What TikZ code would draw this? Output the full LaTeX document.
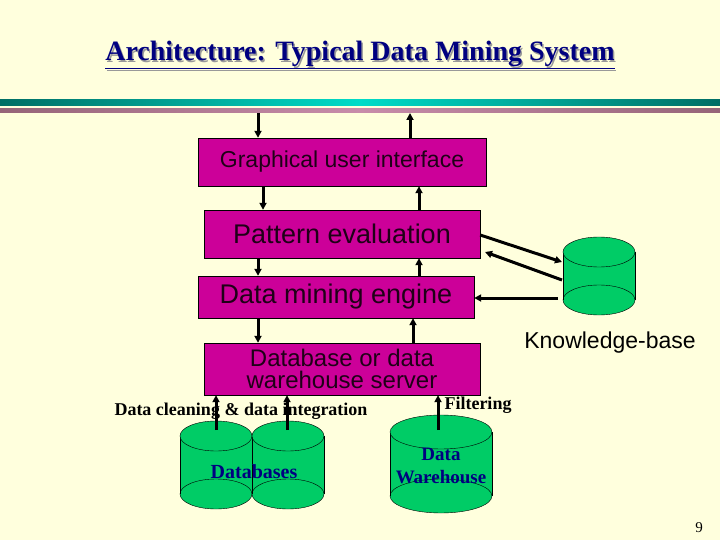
\documentclass[tikz,border=0pt]{standalone}
\usepackage{fontspec}
\setmainfont{Liberation Serif}
\newfontfamily\sansf{Liberation Sans}
\usepackage{tikz}
\usetikzlibrary{arrows.meta}
\definecolor{bgyellow}{RGB}{255,255,221}
\definecolor{boxmag}{RGB}{204,0,153}
\definecolor{cylgreen}{RGB}{0,204,102}
\definecolor{titleblue}{RGB}{0,0,128}
\definecolor{barteal}{RGB}{0,110,100}
\definecolor{barcyan}{RGB}{0,220,200}
\definecolor{barmauve}{RGB}{150,100,120}
\definecolor{barpink}{RGB}{200,140,170}
\tikzset{
	layer/.style={draw=black,fill=boxmag,inner sep=0pt,font=\sansf\fontsize{24}{26}\selectfont,text=black!85!boxmag},
	flow/.style={-{Triangle[length=7pt,width=7pt]},line width=3pt},
	label/.style={font=\bfseries\fontsize{18}{19}\selectfont}
}
% store: name, centre x, top y, bottom y, half width, half height of ellipse
\newcommand{\storecyl}[6]{
	\fill[cylgreen] (#2-#5,#3) rectangle (#2+#5,#4);
	\fill[cylgreen,draw=black] (#2,#4) ellipse [x radius=#5,y radius=#6];
	\draw (#2-#5,#3) -- (#2-#5,#4) (#2+#5,#3) -- (#2+#5,#4);
	\fill[cylgreen,draw=black] (#2,#3) ellipse [x radius=#5,y radius=#6];
	\coordinate (#1) at (#2,#3);
}
\begin{document}
\begin{tikzpicture}[x=1pt,y=-1pt]
	\fill[bgyellow] (0,0) rectangle (720,540);
	\useasboundingbox (0,0) rectangle (720,540);

	% title and bars
	\node[font=\bfseries\fontsize{28}{30}\selectfont,text=black!40] at (361.5,56.5) {\underline{Architecture: Typical Data Mining System}};
	\node[font=\bfseries\fontsize{28}{30}\selectfont,text=titleblue] (title) at (360,55) {\underline{Architecture: Typical Data Mining System}};
	\shade[left color=barteal,right color=barcyan] (0,100) rectangle (360,106);
	\shade[left color=barcyan,right color=barteal] (360,100) rectangle (720,106);
	\shade[left color=barmauve,right color=barpink] (0,109) rectangle (360,113);
	\shade[left color=barpink,right color=barmauve] (360,109) rectangle (720,113);
	\coordinate (inL) at (258,113);
	\coordinate (inR) at (410,113);

	% layers
	\node[layer,minimum width=288pt,minimum height=48pt,font=\sansf\fontsize{23}{24}\selectfont] (gui) at (342,162) {Graphical user interface};
	\node[layer,minimum width=276pt,minimum height=48pt,font=\sansf\fontsize{27}{28}\selectfont] (pat) at (342,234) {Pattern evaluation};
	\node[layer,minimum width=276pt,minimum height=42pt,font=\sansf\fontsize{27}{28}\selectfont] (eng) at (336,297) {Data mining engine};
	\node[layer,minimum width=276pt,minimum height=52pt,align=center,font=\sansf\fontsize{24}{22}\selectfont] (srv) at (342,369) {Database or data\\warehouse server};

	% stores
	\storecyl{db1}{216}{436}{494}{36}{15}
	\storecyl{db2}{288}{436}{494}{36}{15}
	\storecyl{dw}{441}{432}{496}{51}{17}
	\storecyl{kb}{599}{252}{300}{36}{15}
	\coordinate (kbin) at (562,262);
	\coordinate (kbout) at (562,280);
	\coordinate (kbeng) at (558,298);

	% texts
	\node[font=\bfseries\fontsize{20}{21}\selectfont,text=titleblue] (dbt) at (254,472) {Databases};
	\node[font=\bfseries\fontsize{19}{23}\selectfont,text=titleblue,align=center] (dwt) at (441,466) {Data\\Warehouse};
	\node[font=\sansf\fontsize{23}{24}\selectfont] (kbt) at (610,343) {Knowledge-base};
	\node[label] (clean) at (241,411) {Data cleaning \& data integration};
	\node[label] (filt) at (478,405) {Filtering};
	\node[font=\fontsize{15}{16}\selectfont] (pg) at (699,528) {9};

	% flows between layers
	\draw[flow] (inL) -- (gui.north -| inL);
	\draw[flow] (gui.north -| inR) -- (inR);
	\draw[flow] (gui.south -| 263,0) -- (pat.north -| 263,0);
	\draw[flow] (pat.north -| 419,0) -- (gui.south -| 419,0);
	\draw[flow] (pat.south -| 258,0) -- (eng.north -| 258,0);
	\draw[flow] (eng.north -| 419,0) -- (pat.south -| 419,0);
	\draw[flow] (eng.south -| 258,0) -- (srv.north -| 258,0);
	\draw[flow] (srv.north -| 413,0) -- (eng.south -| 413,0);

	% stores to server
	\draw[flow] (db1) ++(0,-6) -- (srv.south -| db1);
	\draw[flow] (db2) ++(-1,-6) -- (srv.south -| 287,0);
	\draw[flow] (dw) ++(-3,-2) -- (srv.south -| 438,0);

	% knowledge base
	\draw[flow] (pat.east |- 0,235) -- (kbin);
	\draw[flow] (kbout) -- (485,252);
	\draw[flow] (kbeng) -- (eng.east |- kbeng);
\end{tikzpicture}
\end{document}
